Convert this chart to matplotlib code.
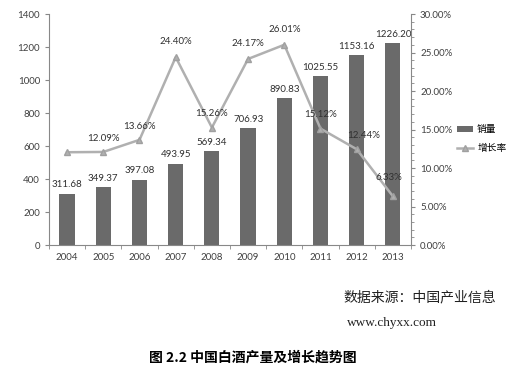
import matplotlib
matplotlib.use("Agg")
import matplotlib.pyplot as plt
from matplotlib.ticker import MultipleLocator, FuncFormatter
import numpy as np

plt.rcParams['font.family'] = ['Lato', 'DejaVu Sans', 'Noto Sans CJK SC']

years = ['2004', '2005', '2006', '2007', '2008', '2009', '2010', '2011', '2012', '2013']
sales = [311.68, 349.37, 397.08, 493.95, 569.34, 706.93, 890.83, 1025.55, 1153.16, 1226.20]
growth = [12.05, 12.09, 13.66, 24.40, 15.26, 24.17, 26.01, 15.12, 12.44, 6.33]
growth_labels = ['', '12.09%', '13.66%', '24.40%', '15.26%', '24.17%', '26.01%', '15.12%', '12.44%', '6.33%']

fig = plt.figure(figsize=(5.19, 3.70), dpi=100)
ax = fig.add_axes([0.0944, 0.3378, 0.6975, 0.6242])
x = np.arange(len(years))
tc = '#404040'
fs = 7
ax.bar(x, sales, width=0.42, color='#6a6a6a', label='销量', zorder=2)
ax.set_xlim(-0.5, len(years) - 0.5)
ax.set_ylim(0, 1400)
ax.yaxis.set_major_locator(MultipleLocator(200))
ax.set_xticks(x)
ax.set_xticklabels(years)
ax.set_xticks(np.arange(-0.5, len(years), 1), minor=True)
ax.tick_params(axis='x', which='major', length=0, labelsize=fs, colors=tc, pad=6)
ax.tick_params(axis='x', which='minor', length=3, color='#888888')
ax.tick_params(axis='y', labelsize=fs, colors=tc, length=3, color='#888888')
for s in ['top', 'right']:
    ax.spines[s].set_visible(False)
for s in ['left', 'bottom']:
    ax.spines[s].set_color('#888888')
    ax.spines[s].set_linewidth(0.8)
for xi, v in zip(x, sales):
    ax.text(xi, v + 25, f'{v:.2f}', ha='center', va='bottom', fontsize=fs, color='#303030')

ax2 = ax.twinx()
ax2.plot(x, growth, color='#b0b0b0', lw=1.8, marker='^', ms=5, mfc='#b0b0b0', mec='#a0a0a0', label='增长率', zorder=3)
ax2.set_ylim(0, 30)
ax2.yaxis.set_major_locator(MultipleLocator(5))
ax2.yaxis.set_minor_locator(MultipleLocator(1))
ax2.yaxis.set_major_formatter(FuncFormatter(lambda v, p: f'{v:.2f}%'))
ax2.tick_params(axis='y', which='major', labelsize=fs, colors=tc, length=3, color='#888888')
ax2.tick_params(axis='y', which='minor', length=2, color='#888888')
for s in ['top', 'left', 'bottom']:
    ax2.spines[s].set_visible(False)
ax2.spines['right'].set_color('#888888')
ax2.spines['right'].set_linewidth(0.8)
offsets = [(0, 0), (0, 1.2), (0, 1.2), (0, 1.4), (0, 1.2), (0, 1.4), (0, 1.4), (0, 1.2), (0.2, 1.2), (-0.1, 1.8)]
for xi, v, lab, (dx, dy) in zip(x, growth, growth_labels, offsets):
    if lab:
        ax2.text(xi + dx, v + dy, lab, ha='center', va='bottom', fontsize=fs, color='#303030', zorder=4)

h1, l1 = ax.get_legend_handles_labels()
h2, l2 = ax2.get_legend_handles_labels()
fig.legend(h1 + h2, l1 + l2, loc='center left', bbox_to_anchor=(0.88, 0.625),
           frameon=False, handlelength=1.7, handletextpad=0.4, labelspacing=0.9,
           borderpad=0, borderaxespad=0,
           prop={'family': ['Noto Sans CJK SC', 'DejaVu Sans'], 'size': 7})

fig.text(0.661, 0.195, '数据来源：中国产业信息', fontsize=10, ha='left', va='center',
         family=['Noto Sans CJK SC', 'DejaVu Sans'], color='#202020')
fig.text(0.668, 0.127, 'www.chyxx.com', fontsize=9.5, ha='left', va='center',
         family=['Liberation Serif', 'DejaVu Serif'], color='#202020')
fig.text(0.487, 0.033, '图 2.2 中国白酒产量及增长趋势图', fontsize=10, ha='center', va='center',
         fontweight='bold', family=['Noto Sans CJK SC', 'DejaVu Sans'], color='#000000')

fig.savefig('out.png', dpi=100)
